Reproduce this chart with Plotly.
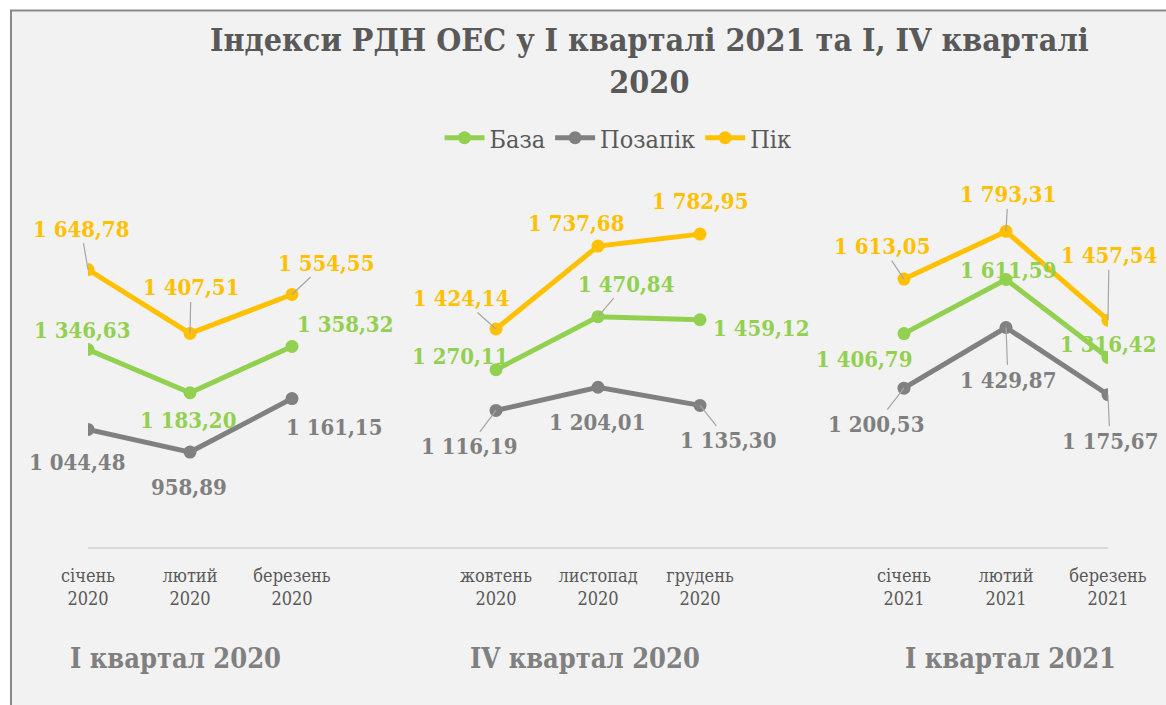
import plotly.graph_objects as go

# Monthly categories (empty slots separate the three quarters)
categories = ["січень<br>2020", "лютий<br>2020", "березень<br>2020", " ",
              "жовтень<br>2020", "листопад<br>2020", "грудень<br>2020", "  ",
              "січень<br>2021", "лютий<br>2021", "березень<br>2021"]
month_ticks = [c for c in categories if c.strip()]

quarters = ["І квартал 2020", "IV квартал 2020", "І квартал 2021"]
quarter_centers = ["лютий<br>2020", "листопад<br>2020", "лютий<br>2021"]

baza =    [1346.63, 1183.20, 1358.32, None, 1270.11, 1470.84, 1459.12, None, 1406.79, 1611.59, 1316.42]
pozapik = [1044.48, 958.89, 1161.15, None, 1116.19, 1204.01, 1135.30, None, 1200.53, 1429.87, 1175.67]
pik =     [1648.78, 1407.51, 1554.55, None, 1424.14, 1737.68, 1782.95, None, 1613.05, 1793.31, 1457.54]

# Label offsets in pixels (dx, dy; dy downward) and whether a leader line is drawn
baza_lbl =    [(-6, -20, 0), (-2, 27, 0), (53, -22, 0), None, (-36, -14, 0), (28, -33, 1), (61, 8, 0), None,
               (-40, 25, 0), (2, -9, 0), (0, -14, 0)]
pozapik_lbl = [(-11, 33, 0), (-1, 35, 0), (42, 28, 0), None, (-27, 36, 1), (-1, 35, 0), (28, 35, 1), None,
               (-28, 36, 1), (2, 52, 1), (2, 46, 1)]
pik_lbl =     [(-7, -41, 1), (1, -46, 1), (34, -32, 1), None, (-35, -31, 1), (-22, -23, 0), (0, -33, 0), None,
               (-22, -33, 1), (2, -37, 1), (1, -65, 1)]

GREEN = "#92D050"
GRAY = "#808080"
GOLD = "#FFC000"
TEXT = "#595959"
SERIF = "DejaVu Serif Condensed, DejaVu Serif"

W, H = 1166, 705


def font(size, color):
    return dict(family=SERIF, size=size, color=color)


fig = go.Figure()
series = [("База", baza, GREEN, baza_lbl, GREEN),
          ("Позапік", pozapik, GRAY, pozapik_lbl, "#7F7F7F"),
          ("Пік", pik, GOLD, pik_lbl, GOLD)]

for name, vals, color, _, _ in series:
    fig.add_trace(go.Scatter(
        x=categories, y=vals, name=name, mode="lines+markers",
        line=dict(color=color, width=5), marker=dict(color=color, size=13),
        connectgaps=False, hoverinfo="skip"))


def fmt(v):
    s = f"{v:,.2f}"
    return s.replace(",", " ").replace(".", ",")


annotations = []
for name, vals, color, lbls, tcolor in series:
    for cat, v, l in zip(categories, vals, lbls):
        if v is None:
            continue
        dx, dy, leader = l
        common = dict(x=cat, y=v, xref="x", yref="y", text=f"<b>{fmt(v)}</b>",
                      font=font(22, tcolor))
        if leader:
            annotations.append(dict(**common, showarrow=True, ax=dx, ay=dy,
                                    arrowhead=0, arrowwidth=1.2, arrowcolor="#A6A6A6",
                                    standoff=0, startstandoff=0))
        else:
            annotations.append(dict(**common, showarrow=False, xshift=dx, yshift=-dy))

# Quarter captions under the month labels
for q, c, sh in zip(quarters, quarter_centers, [-15, -13, 4]):
    annotations.append(dict(x=c, y=1 - 658 / H, xref="x", yref="paper", yanchor="middle",
                            text=f"<b>{q}</b>", showarrow=False, xshift=sh,
                            font=font(27, GRAY)))

# Title
annotations.append(dict(
    x=650 / W, y=1 - 61 / H, xref="paper", yref="paper", xanchor="center", yanchor="middle",
    text="<b>Індекси РДН ОЕС у І кварталі 2021 та І, IV кварталі<br>2020</b>",
    showarrow=False, align="center", font=font(32, TEXT)))

fig.update_layout(
    width=W, height=H, autosize=False,
    font=dict(family=SERIF),
    margin=dict(l=0, r=0, t=0, b=0, pad=0),
    paper_bgcolor="white", plot_bgcolor="rgba(0,0,0,0)",
    showlegend=True,
    legend=dict(orientation="h", x=618 / W, xanchor="center", y=1 - 138 / H, yanchor="middle",
                font=font(25, TEXT), bgcolor="rgba(0,0,0,0)",
                itemwidth=40, tracegroupgap=0),
    xaxis=dict(type="category", categoryorder="array", categoryarray=categories,
               domain=[88 / W, 1108 / W], range=[0, 10], automargin=False,
               showgrid=False, zeroline=False, showline=True, linecolor="#D9D9D9", linewidth=2,
               tickmode="array", tickvals=month_ticks, ticktext=month_ticks,
               ticks="outside", ticklen=11, tickcolor="rgba(0,0,0,0)",
               tickfont=font(18, TEXT)),
    yaxis=dict(domain=[1 - 547 / H, 1 - 176.7 / H], range=[600, 2000], visible=False,
               automargin=False),
    shapes=[dict(type="rect", xref="paper", yref="paper", layer="below",
                 x0=11 / W, x1=1.01, y0=-0.01, y1=1 - 10.5 / H,
                 fillcolor="#F2F2F2", line=dict(color="#898989", width=2))],
    annotations=annotations,
)

fig.write_html("out.html")
